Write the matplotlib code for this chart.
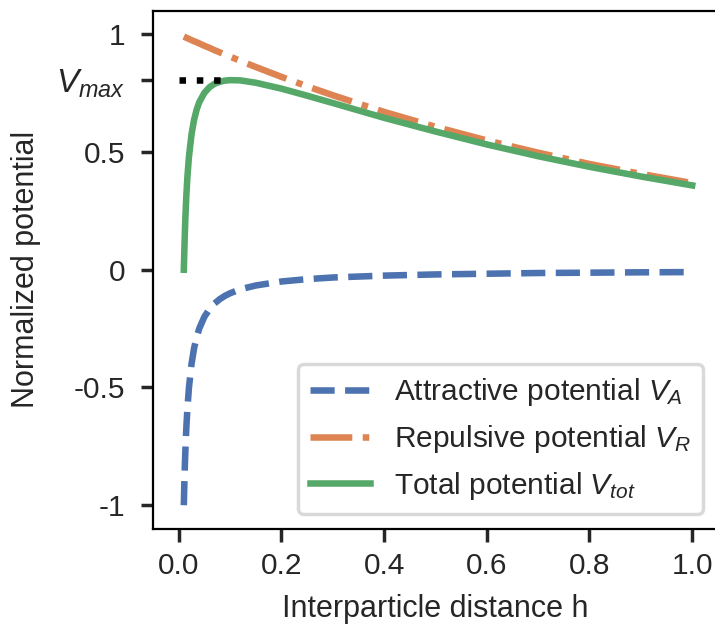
import matplotlib
matplotlib.use("Agg")
import matplotlib.pyplot as plt

# interparticle distance and normalized potentials
h = [0.01, 0.011, 0.012, 0.013, 0.014, 0.015, 0.017, 0.02, 0.025, 0.03,
     0.035, 0.04, 0.05, 0.06, 0.07, 0.08, 0.09, 0.1, 0.12, 0.15,
     0.2, 0.25, 0.3, 0.4, 0.5, 0.6, 0.7, 0.8, 0.9, 1.0]
v_att = [-1.0, -0.909, -0.833, -0.769, -0.714, -0.667, -0.588, -0.5, -0.4, -0.333,
         -0.286, -0.25, -0.2, -0.167, -0.143, -0.125, -0.111, -0.1, -0.083, -0.067,
         -0.05, -0.04, -0.033, -0.025, -0.02, -0.017, -0.014, -0.0125, -0.011, -0.01]
v_rep = [0.990, 0.989, 0.988, 0.987, 0.986, 0.985, 0.983, 0.980, 0.975, 0.970,
         0.966, 0.961, 0.951, 0.942, 0.932, 0.923, 0.914, 0.905, 0.887, 0.861,
         0.819, 0.779, 0.741, 0.670, 0.607, 0.549, 0.497, 0.449, 0.407, 0.368]
v_tot = [0.0, 0.080, 0.155, 0.218, 0.272, 0.318, 0.395, 0.480, 0.575, 0.637,
         0.680, 0.711, 0.751, 0.775, 0.790, 0.798, 0.803, 0.805, 0.804, 0.794,
         0.769, 0.739, 0.708, 0.645, 0.587, 0.532, 0.482, 0.437, 0.396, 0.358]
v_max = 0.805
vmax_x = [0.0, 0.1]
ytick_vals = [1, v_max, 0.5, 0, -0.5, -1]
ytick_labels = ["1", "$V_{max}$", "0.5", "0", "-0.5", "-1"]

plt.rcParams["font.family"] = ["Liberation Sans", "DejaVu Sans"]
plt.rcParams["mathtext.fontset"] = "custom"
plt.rcParams["mathtext.rm"] = "Liberation Sans"
plt.rcParams["mathtext.it"] = "Liberation Sans:italic"
plt.rcParams["text.color"] = "#262626"
plt.rcParams["axes.labelcolor"] = "#262626"
plt.rcParams["xtick.color"] = "#262626"
plt.rcParams["ytick.color"] = "#262626"

fig = plt.figure(figsize=(7.15, 6.28), dpi=100)
ax = fig.add_axes([0.214, 0.158, 0.79, 0.825])

lw = 4.7
ax.plot(h, v_att, ls="--", lw=lw, color="#4C72B0", label="Attractive potential $V_A$")
ax.plot(h, v_rep, ls="-.", lw=lw, color="#DD8452", label="Repulsive potential $V_R$")
ax.plot(h, v_tot, ls="-", lw=lw, color="#55A868", label="Total potential $V_{tot}$")
ax.plot(vmax_x, [v_max, v_max], ls=":", lw=lw, color="black")

ax.set_xlim(-0.05, 1.05)
ax.set_ylim(-1.1, 1.1)
ax.set_xticks([0.0, 0.2, 0.4, 0.6, 0.8, 1.0])
ax.set_xticklabels(["0.0", "0.2", "0.4", "0.6", "0.8", "1.0"])
ax.set_yticks(ytick_vals)
ax.set_yticklabels(ytick_labels)
ax.tick_params(labelsize=21.5, length=9, width=2.5, pad=8)
ax.tick_params(axis="y", pad=11)
ax.get_yticklabels()[1].set_fontsize(24)
for s in ax.spines.values():
    s.set_linewidth(1.6)
    s.set_color("black")

ax.set_xlabel("Interparticle distance h", fontsize=22, labelpad=10)
ax.set_ylabel("Normalized potential", fontsize=22, labelpad=11)

leg = ax.legend(loc="lower right", fontsize=21.5, frameon=True, fancybox=True)
leg.get_frame().set_edgecolor("#d0d0d0")
leg.get_frame().set_linewidth(2.5)

fig.savefig("out.png", dpi=100)
